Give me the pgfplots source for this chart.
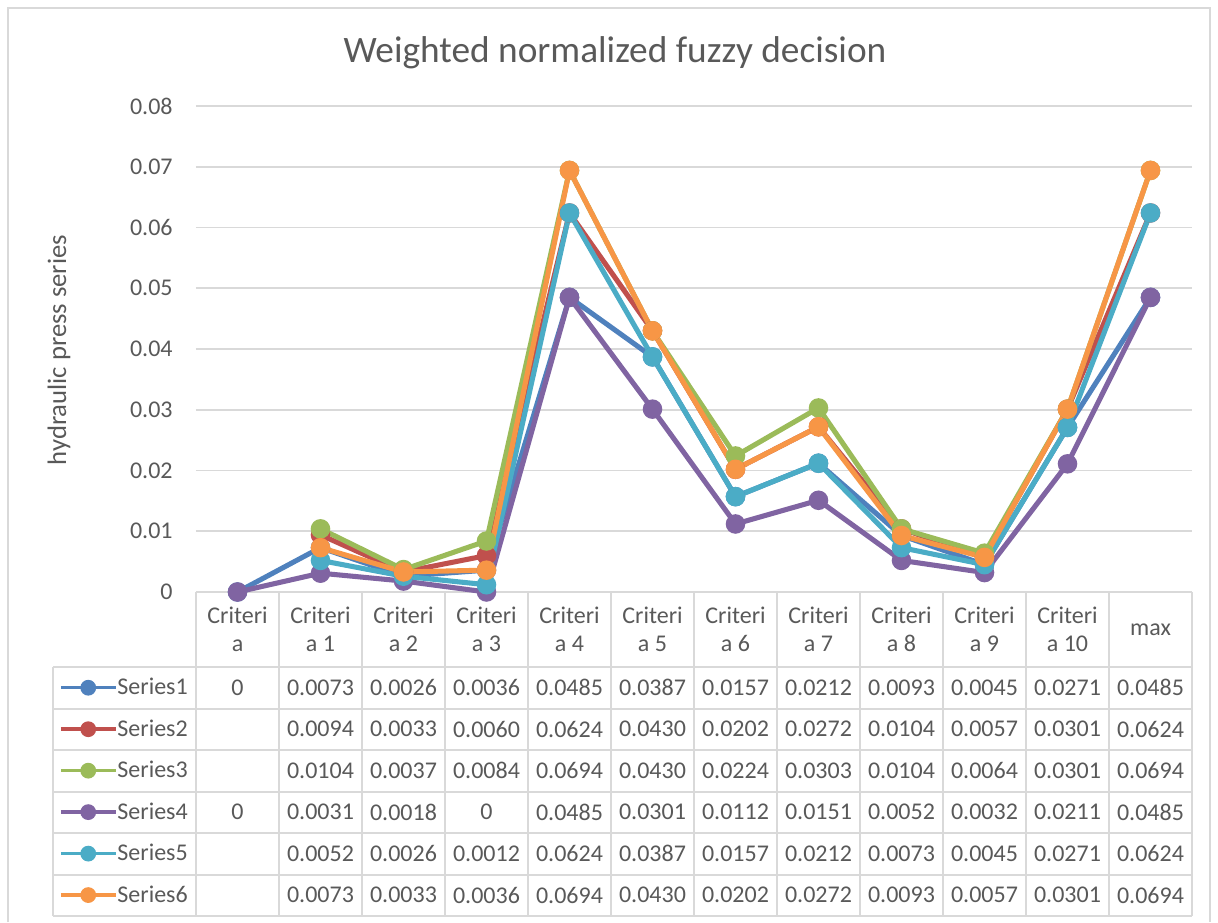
\documentclass[border=0pt]{standalone}
\usepackage{fontspec}
\setmainfont{Carlito}
\usepackage{pgfplots}
\usepackage{pgfplotstable}
\pgfplotsset{compat=1.18}
\definecolor{sA}{HTML}{4F81BD}
\definecolor{sB}{HTML}{C0504D}
\definecolor{sC}{HTML}{9BBB59}
\definecolor{sD}{HTML}{8064A2}
\definecolor{sE}{HTML}{4BACC6}
\definecolor{sF}{HTML}{F79646}
\definecolor{txt}{HTML}{595959}
\definecolor{grd}{HTML}{D9D9D9}

\pgfplotstableread{
x s1 s2 s3 s4 s5 s6
0 0 nan nan 0 nan nan
1 0.0073 0.0094 0.0104 0.0031 0.0052 0.0073
2 0.0026 0.0033 0.0037 0.0018 0.0026 0.0033
3 0.0036 0.0060 0.0084 0 0.0012 0.0036
4 0.0485 0.0624 0.0694 0.0485 0.0624 0.0694
5 0.0387 0.0430 0.0430 0.0301 0.0387 0.0430
6 0.0157 0.0202 0.0224 0.0112 0.0157 0.0202
7 0.0212 0.0272 0.0303 0.0151 0.0212 0.0272
8 0.0093 0.0104 0.0104 0.0052 0.0073 0.0093
9 0.0045 0.0057 0.0064 0.0032 0.0045 0.0057
10 0.0271 0.0301 0.0301 0.0211 0.0271 0.0301
11 0.0485 0.0624 0.0694 0.0485 0.0624 0.0694
}\datatable

\newcommand\tablerow[2]{%
  \foreach \v [count=\c from 0] in {#2} {\node[txt,font=\tfont] at (196+83*\c+41.5,#1) {\v};}}
\newcommand\tfont{\fontsize{18}{21}\selectfont}

\begin{document}
\begin{tikzpicture}
\begin{scope}[x=0.75pt,y=-0.75pt]
\useasboundingbox (0,0) rectangle (1218,922);
\draw[grd, line width=1.5pt] (8,922) -- (8,8) -- (1210,8) -- (1210,922);
\node[txt, anchor=base, font=\fontsize{28}{34}\selectfont] at (615,62) {Weighted normalized fuzzy decision};
\node[txt, anchor=base, rotate=90, font=\fontsize{20}{24}\selectfont] at (66,350) {hydraulic press series};
% table grid
\begin{scope}[grd, line width=1.5pt]
\draw (196,592) -- (1192,592);
\foreach \yy in {667,708.5,750,791.5,833,874.5,916} {\draw (53,\yy) -- (1192,\yy);}
\draw (53,667) -- (53,916);
\foreach \k in {0,...,12} {\draw (196+83*\k,592) -- (196+83*\k,916);}
\end{scope}
% header
\foreach \k in {1,...,10} {\node[txt, font=\tfont, align=center] at (196+83*\k+41.5,629.5) {Criteri\\a \k};}
\node[txt, font=\tfont, align=center] at (237.5,629.5) {Criteri\\a};
\node[txt, font=\tfont] at (1150.5,630) {max};
\tablerow{687.75}{0,0.0073,0.0026,0.0036,0.0485,0.0387,0.0157,0.0212,0.0093,0.0045,0.0271,0.0485}
\tablerow{729.25}{{},0.0094,0.0033,0.0060,0.0624,0.0430,0.0202,0.0272,0.0104,0.0057,0.0301,0.0624}
\tablerow{770.75}{{},0.0104,0.0037,0.0084,0.0694,0.0430,0.0224,0.0303,0.0104,0.0064,0.0301,0.0694}
\tablerow{812.25}{0,0.0031,0.0018,0,0.0485,0.0301,0.0112,0.0151,0.0052,0.0032,0.0211,0.0485}
\tablerow{853.75}{{},0.0052,0.0026,0.0012,0.0624,0.0387,0.0157,0.0212,0.0073,0.0045,0.0271,0.0624}
\tablerow{895.25}{{},0.0073,0.0033,0.0036,0.0694,0.0430,0.0202,0.0272,0.0093,0.0057,0.0301,0.0694}
\end{scope}

\begin{axis}[
  at={(147pt,-444pt)}, anchor=south west,
  scale only axis, width=747pt, height=364.5pt,
  xmin=-0.5, xmax=11.5, ymin=0, ymax=0.08,
  axis line style={draw=none},
  xtick=\empty,
  ytick={0,0.01,...,0.08},
  ymajorgrids, grid style={grd, line width=1.2pt},
  major tick length=0pt,
  yticklabel style={/pgf/number format/fixed, /pgf/number format/precision=2, /pgf/number format/assume math mode=true, font=\fontsize{18}{21}\selectfont, text=txt},
  yticklabel shift=14pt,
  scaled y ticks=false,
  unbounded coords=jump,
  clip=false,
  every axis plot/.append style={line width=3.8pt, mark=*, mark size=5.4pt},
  legend image code/.code={\draw[line width=2.6pt, mark size=4.6pt, mark repeat=2,mark phase=2] plot coordinates {(0pt,0pt)(20.6pt,0pt)(41.2pt,0pt)};},
  legend style={at={(-0.1375,-0.1543)}, anchor=north west, draw=none, fill=none, inner sep=0pt, outer sep=0pt, row sep=0pt, column sep=0pt, nodes={inner sep=0pt, minimum height=31.1pt, text=txt, font=\fontsize{18}{21}\selectfont}},
  legend cell align=left,
]
\addplot[sA, mark options={fill=sA, draw=sA}] table[x=x, y=s1] {\datatable};
\addplot[sB, mark options={fill=sB, draw=sB}] table[x=x, y=s2] {\datatable};
\addplot[sC, mark options={fill=sC, draw=sC}] table[x=x, y=s3] {\datatable};
\addplot[sD, mark options={fill=sD, draw=sD}] table[x=x, y=s4] {\datatable};
\addplot[sE, mark options={fill=sE, draw=sE}] table[x=x, y=s5] {\datatable};
\addplot[sF, mark options={fill=sF, draw=sF}] table[x=x, y=s6] {\datatable};
\legend{Series1,Series2,Series3,Series4,Series5,Series6}
\end{axis}
\end{tikzpicture}
\end{document}
